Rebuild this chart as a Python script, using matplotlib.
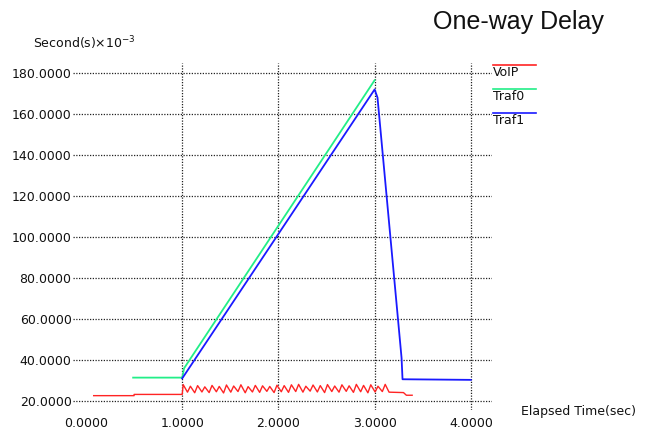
import matplotlib
matplotlib.use('Agg')
import matplotlib.pyplot as plt
from matplotlib.lines import Line2D

# ---- data ----
x_ticks = [0, 1, 2, 3, 4]
x_labels = ['0.0000', '1.0000', '2.0000', '3.0000', '4.0000']
y_ticks = [20, 40, 60, 80, 100, 120, 140, 160, 180]
y_labels = ['20.0000', '40.0000', '60.0000', '80.0000', '100.0000',
            '120.0000', '140.0000', '160.0000', '180.0000']

voip_t = [0.08, 0.50, 0.50, 1.00,
          1.01, 1.055, 1.085, 1.13, 1.16, 1.205, 1.235, 1.28, 1.31, 1.355,
          1.385, 1.43, 1.46, 1.505, 1.535, 1.58, 1.61, 1.655, 1.685, 1.73,
          1.76, 1.805, 1.835, 1.88, 1.91, 1.955, 1.985, 2.03, 2.06, 2.105,
          2.135, 2.18, 2.21, 2.255, 2.285, 2.33, 2.36, 2.405, 2.435, 2.48,
          2.51, 2.555, 2.585, 2.63, 2.66, 2.705, 2.735, 2.78, 2.81, 2.855,
          2.885, 2.93, 2.96, 3.005, 3.035, 3.08, 3.11, 3.15,
          3.30, 3.33, 3.39]
voip_v = [22.6, 22.6, 23.2, 23.2,
          28.0, 24.3, 27.2, 24.0, 27.5, 24.4, 26.9, 24.1, 27.6, 24.5,
          27.1, 23.9, 27.8, 24.3, 27.3, 24.6, 27.9, 24.0, 27.0, 24.4,
          27.6, 24.2, 27.4, 24.7, 27.1, 24.1, 27.7, 24.5, 27.5, 24.2,
          27.9, 24.6, 28.1, 24.3, 27.2, 24.8, 27.8, 24.4, 27.5, 24.1,
          28.0, 24.6, 27.3, 24.3, 27.9, 24.7, 27.4, 24.2, 28.1, 24.5,
          27.6, 24.0, 27.9, 24.4, 27.2, 24.6, 28.1, 24.3,
          24.1, 22.8, 22.8]

traf0_t = [0.49, 1.00, 1.02, 3.00]
traf0_v = [31.4, 31.4, 36.0, 176.5]

traf1_t = [1.00, 3.00, 3.03, 3.28, 3.29, 4.00]
traf1_v = [31.0, 172.0, 168.0, 41.0, 30.6, 30.3]

series_names = ['VoIP', 'Traf0', 'Traf1']
series_colors = ['#ff2424', '#22ee88', '#1a1aff']

# ---- figure ----
fig = plt.figure(figsize=(6.47, 4.32), dpi=100)
W, H = 647, 432
ax = fig.add_axes([73 / W, 1 - 410 / H, (492 - 73) / W, (410 - 63) / H])
ax.set_xlim(-0.135, 4.22)
ax.set_ylim(15.6, 184.9)

for s in ax.spines.values():
    s.set_visible(False)

grid_kw = dict(color='#222222', linestyle=(0, (1, 1.2)), linewidth=0.9, zorder=1)
for y in y_ticks:
    ax.axhline(y, **grid_kw)
for x in x_ticks[1:]:
    ax.axvline(x, **grid_kw)

ax.set_xticks(x_ticks)
ax.set_xticklabels(x_labels)
ax.set_yticks(y_ticks)
ax.set_yticklabels(y_labels)
ax.tick_params(axis='both', length=0, labelsize=9, colors='#111111')
ax.tick_params(axis='y', pad=1)
ax.tick_params(axis='x', pad=5)

ax.plot(voip_t, voip_v, color=series_colors[0], lw=1.0, zorder=3)
ax.plot(traf0_t, traf0_v, color=series_colors[1], lw=1.3, zorder=3)
ax.plot(traf1_t, traf1_v, color=series_colors[2], lw=1.3, zorder=4)

# titles / labels
fig.text(518 / W, 1 - 22 / H, 'One-way Delay', ha='center', va='center',
         fontsize=18, family='Liberation Sans', color='#111111')
fig.text(33 / W, 1 - 43 / H, 'Second(s)\u00d710$^{-3}$', ha='left', va='center',
         fontsize=9, color='#111111')
fig.text(521 / W, 1 - 411 / H, 'Elapsed Time(sec)', ha='left', va='center',
         fontsize=9, color='#111111')

# legend (manual)
leg_line_y = [64.5, 88.5, 112.5]
leg_text_y = [72.5, 96.5, 120]
for name, col, ly, ty in zip(series_names, series_colors, leg_line_y, leg_text_y):
    fig.add_artist(Line2D([493 / W, 536 / W], [1 - ly / H, 1 - ly / H],
                          color=col, lw=1.2))
    fig.text(493 / W, 1 - ty / H, name, ha='left', va='center',
             fontsize=9, color='#111111')

fig.savefig('out.png', dpi=100)
